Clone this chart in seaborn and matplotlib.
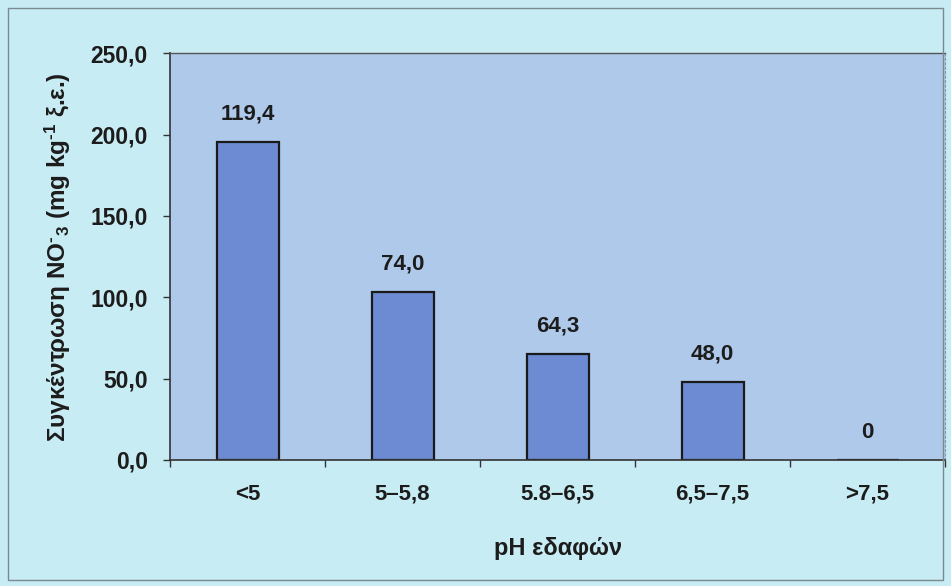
import matplotlib
matplotlib.use("agg")
import matplotlib.pyplot as plt
import matplotlib.patches as mpatches
from matplotlib.ticker import FuncFormatter, FixedLocator
import seaborn as sns
import pandas as pd

# pH classes, bar heights as drawn, and the printed value labels
categories = ["<5", "5–5,8", "5.8–6,5", "6,5–7,5", ">7,5"]
bar_heights = [195.6, 103.4, 65.1, 48.1, 0.0]
value_labels = ["119,4", "74,0", "64,3", "48,0", "0"]

ylabel = r"Συγκέντρωση NO$^{\text{-}}{}_{3}$ (mg kg$^{\text{-}1}$ ξ.ε.)"
xlabel = "pH εδαφών"

sns.set_theme(style="white")
plt.rcParams['font.family'] = ['Liberation Sans', 'DejaVu Sans']
plt.rcParams['mathtext.fontset'] = 'custom'
plt.rcParams['mathtext.rm'] = 'Liberation Sans:bold'
plt.rcParams['mathtext.it'] = 'Liberation Sans:bold'
plt.rcParams['mathtext.bf'] = 'Liberation Sans:bold'

outer_bg = "#c8ecf3"
plot_bg = "#aec9ea"
bar_col = "#6c8bd2"
text_col = "#1c1c1c"

fig = plt.figure(figsize=(9.51, 5.86), dpi=100, facecolor=outer_bg)
ax = fig.add_axes([170 / 951, 1 - 460 / 586, 775 / 951, 406.7 / 586])
ax.set_facecolor(plot_bg)

df = pd.DataFrame({"ph": categories, "val": bar_heights})
sns.barplot(data=df, x="ph", y="val", ax=ax, color=bar_col, width=0.4,
            edgecolor="#1a1a1a", linewidth=1.6, saturation=1)

ax.set_xlim(-0.5, len(categories) - 0.5)
ax.set_ylim(0, 250)
ax.set_yticks([0, 50, 100, 150, 200, 250])
ax.yaxis.set_major_formatter(FuncFormatter(lambda v, p: f"{v:.1f}".replace(".", ",")))

# ticks between categories, labels at category centres
ax.xaxis.set_major_locator(FixedLocator([i - 0.5 for i in range(len(categories) + 1)]))
ax.set_xticklabels([""] * (len(categories) + 1))
ax.xaxis.set_minor_locator(FixedLocator(list(range(len(categories)))))
ax.set_xticklabels(categories, minor=True, fontweight="bold")
ax.tick_params(axis="x", which="major", length=5, width=1, color="#333333", direction="out", bottom=True)
ax.tick_params(axis="x", which="minor", length=0, pad=17, labelsize=16, labelcolor=text_col)
ax.tick_params(axis="y", length=5, width=1, color="#333333", direction="out", left=True,
               pad=11, labelsize=16.5, labelcolor=text_col)
for t in ax.get_yticklabels():
    t.set_fontweight("bold")

for s in ["left", "bottom"]:
    ax.spines[s].set_color("#333333")
    ax.spines[s].set_linewidth(1.2)
ax.spines["top"].set_color("#555555")
ax.spines["top"].set_linewidth(1.0)
ax.spines["right"].set_color("#8899aa")
ax.spines["right"].set_linewidth(0.8)
ax.spines["right"].set_linestyle((0, (2, 2)))

for i, lab in enumerate(value_labels):
    ax.annotate(lab, (i, bar_heights[i]), xytext=(0, 20), textcoords="offset points",
                ha="center", va="center", fontsize=16, fontweight="bold", color=text_col)

ax.set_xlabel(xlabel, fontsize=17, fontweight="bold", color=text_col)
ax.xaxis.set_label_coords(0.5, -(548 - 460) / 406.7)
ax.xaxis.label.set_va("center")
ax.set_ylabel(ylabel, fontsize=17.5, fontweight="bold", color=text_col)
ax.yaxis.set_label_coords((58 - 170) / 775, 0.5)
ax.yaxis.label.set_va("center")

# frame round the whole chart
fig.patches.append(mpatches.Rectangle((8 / 951, 6 / 586), 935 / 951, 572 / 586,
                                      transform=fig.transFigure, fill=False,
                                      edgecolor="#7a8a90", linewidth=1.0))

fig.savefig("out.png", dpi=100, facecolor=outer_bg)
